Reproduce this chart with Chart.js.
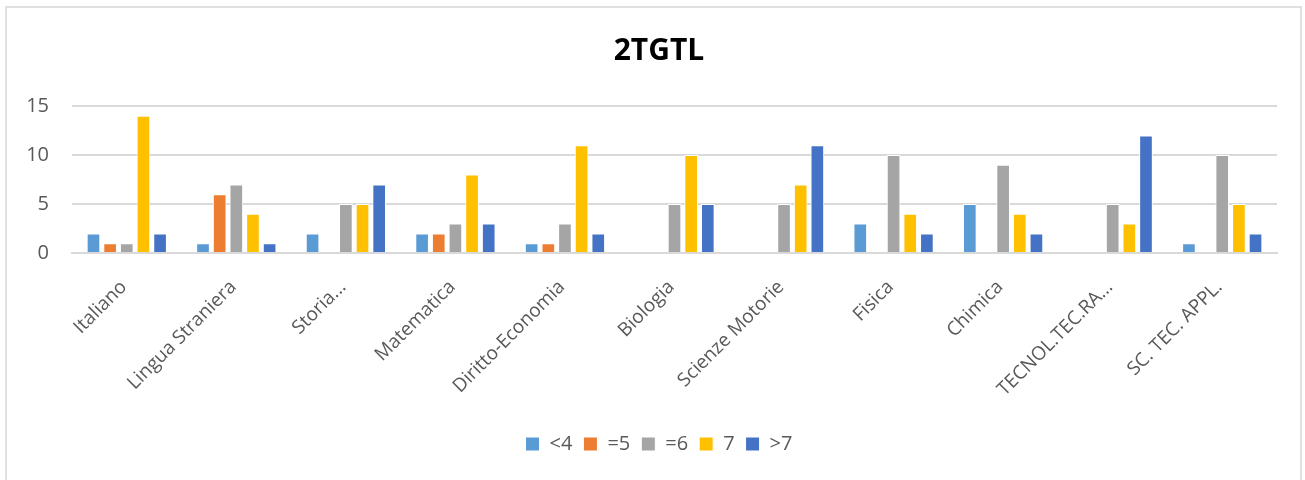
<!DOCTYPE html>
<html>
<head>
<meta charset="utf-8">
<script src="https://cdn.jsdelivr.net/npm/chart.js@4/dist/chart.umd.min.js"></script>
<style>
  body { margin: 0; background: #fff; }
  #box { position: absolute; left: 5px; top: 6px; width: 1297px; height: 480px; border: 2px solid #e0e0e0; box-sizing: border-box; }
  #wrap { position: absolute; left: 2px; top: 1px; width: 1290px; height: 473px; }
</style>
</head>
<body>
<div id="box"><div id="wrap"><canvas id="gradesChart"></canvas></div></div>
<script>
var subjects = ["Italiano", "Lingua Straniera", "Storia...", "Matematica", "Diritto-Economia", "Biologia", "Scienze Motorie", "Fisica", "Chimica", "TECNOL.TEC.RA...", "SC. TEC. APPL."];
var below4 = [2, 1, 2, 2, 1, null, null, 3, 5, null, 1];
var eq5 = [1, 6, null, 2, 1, null, null, null, null, null, null];
var eq6 = [1, 7, 5, 3, 3, 5, 5, 10, 9, 5, 10];
var seven = [14, 4, 5, 8, 11, 10, 7, 4, 4, 3, 5];
var above7 = [2, 1, 7, 3, 2, 5, 11, 2, 2, 12, 2];
var yTicks = [0, 5, 10, 15];

var font = "'Open Sans', 'Liberation Sans', sans-serif";
var grey = "#595959";

function series(label, data, color) {
    return {
        label: label,
        data: data,
        backgroundColor: color,
        borderColor: "#ffffff",
        borderWidth: 1,
        borderSkipped: "bottom",
        categoryPercentage: 0.76,
        barPercentage: 0.82
    };
}

var ctx = document.getElementById("gradesChart").getContext("2d");
var gradesChart = new Chart(ctx, {
    type: "bar",
    data: {
        labels: subjects,
        datasets: [
            series("<4", below4, "#5B9BD5"),
            series("=5", eq5, "#ED7D31"),
            series("=6", eq6, "#A5A5A5"),
            series("7", seven, "#FFC000"),
            series(">7", above7, "#4472C4")
        ]
    },
    options: {
        responsive: true,
        maintainAspectRatio: false,
        animation: false,
        layout: { padding: { left: 10, right: 0, bottom: 18 } },
        plugins: {
            title: {
                display: true,
                text: "2TGTL",
                color: "#000",
                font: { family: font, size: 30, weight: "bold" },
                padding: { top: 24, bottom: 37 }
            },
            legend: {
                position: "bottom",
                labels: {
                    color: grey,
                    font: { family: font, size: 20 },
                    boxWidth: 14,
                    boxHeight: 14,
                    padding: 11
                }
            },
            tooltip: { enabled: false }
        },
        scales: {
            x: {
                grid: { display: false },
                border: { color: "#d9d9d9", width: 2 },
                afterFit: function (axis) {
                    axis.height = 170;
                    axis.paddingLeft = 0;
                    axis.paddingRight = 22;
                },
                ticks: {
                    color: grey,
                    font: { family: font, size: 19 },
                    minRotation: 45,
                    maxRotation: 45,
                    labelOffset: -3,
                    padding: 15
                }
            },
            y: {
                min: 0,
                max: 15,
                afterBuildTicks: function (axis) {
                    axis.ticks = yTicks.map(function (v) { return { value: v }; });
                },
                afterFit: function (axis) { axis.width = 53; },
                grid: { color: "#d9d9d9", lineWidth: 2, drawTicks: false },
                border: { display: false },
                ticks: {
                    color: grey,
                    font: { family: font, size: 20 },
                    padding: 23
                }
            }
        }
    }
});
gradesChart.render();
</script>
</body>
</html>
